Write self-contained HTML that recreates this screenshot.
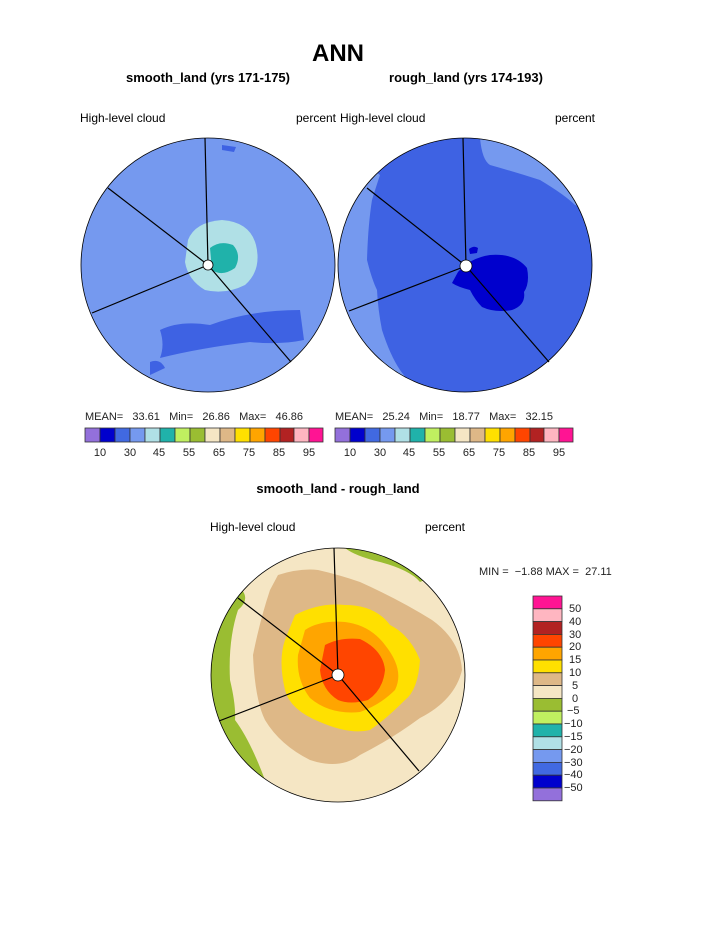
<!DOCTYPE html>
<html><head><style>body{margin:0;background:#fff}svg{display:block}text{font-family:"Liberation Sans",sans-serif}</style></head>
<body>
<svg width="723" height="935" viewBox="0 0 723 935" xmlns="http://www.w3.org/2000/svg">
<defs>
<clipPath id="c1"><circle cx="208" cy="265" r="127"/></clipPath>
<clipPath id="c2"><circle cx="465" cy="265" r="127"/></clipPath>
<clipPath id="c3"><circle cx="338" cy="675" r="127"/></clipPath>
</defs>
<text x="338" y="61" font-size="24" font-weight="bold" text-anchor="middle">ANN</text>
<text x="208" y="82" font-size="13" font-weight="bold" text-anchor="middle">smooth_land (yrs 171-175)</text>
<text x="466" y="82" font-size="13" font-weight="bold" text-anchor="middle">rough_land (yrs 174-193)</text>
<text x="80" y="122" font-size="12">High-level cloud</text>
<text x="336" y="122" font-size="12" text-anchor="end">percent</text>
<text x="340" y="122" font-size="12">High-level cloud</text>
<text x="595" y="122" font-size="12" text-anchor="end">percent</text>

<!-- left plot -->
<g clip-path="url(#c1)">
<rect x="70" y="130" width="280" height="270" fill="#7599EF"/>
<path d="M160 330 Q180 320 210 325 Q250 310 300 310 L304 340 Q280 345 250 342 Q200 348 160 358 Q165 345 160 330Z" fill="#3E62E3"/>
<path d="M150 362 Q160 358 165 368 L150 375Z" fill="#3E62E3"/>
<path d="M222 145 L236 147 L234 152 L222 150Z" fill="#3E62E3"/>
<path d="M188 240 Q195 222 222 220 Q250 222 256 245 Q262 270 245 285 Q225 295 205 290 Q188 280 185 262Z" fill="#B0E0E6"/>
<path d="M210 248 Q220 240 233 245 Q242 255 235 268 Q222 277 212 270Z" fill="#20B2AA"/>
</g>
<circle cx="208" cy="265" r="127" fill="none" stroke="#000" stroke-width="0.8"/>
<g stroke="#000" stroke-width="1.2"><line x1="208" y1="265" x2="205" y2="138"/><line x1="208" y1="265" x2="108" y2="188"/><line x1="208" y1="265" x2="92" y2="313"/><line x1="208" y1="265" x2="291" y2="362"/></g>
<circle cx="208" cy="265" r="5" fill="#fff" stroke="#000" stroke-width="0.8"/>

<!-- right plot -->
<g clip-path="url(#c2)">
<rect x="330" y="130" width="280" height="270" fill="#3E62E3"/>
<path d="M480 138 Q482 160 490 165 Q515 172 540 180 Q565 195 575 205 Q590 210 600 215 L600 130 Z" fill="#7599EF"/>
<path d="M330 140 L380 175 Q375 190 372 200 Q368 225 367 260 Q372 280 377 290 Q378 310 382 330 Q390 355 400 370 Q410 385 430 395 L330 400Z" fill="#7599EF"/>
<path d="M458 272 Q470 258 490 255 Q515 253 527 268 Q530 283 524 292 Q526 305 512 310 Q495 313 482 307 Q475 300 470 290 Q458 287 452 283Z" fill="#0000CD"/>
<path d="M469 249 Q474 245 478 248 L477 253 L470 254Z" fill="#0000CD"/>
</g>
<circle cx="465" cy="265" r="127" fill="none" stroke="#000" stroke-width="0.8"/>
<g stroke="#000" stroke-width="1.2"><line x1="466" y1="266" x2="463" y2="138"/><line x1="466" y1="266" x2="367" y2="188"/><line x1="466" y1="266" x2="349" y2="311"/><line x1="466" y1="266" x2="549" y2="362"/></g>
<circle cx="466" cy="266" r="6" fill="#fff" stroke="#000" stroke-width="0.8"/>

<!-- stats -->
<g font-size="11" fill="#222">
<text x="85" y="420">MEAN=&#160;&#160;&#160;33.61&#160;&#160;&#160;Min=&#160;&#160;&#160;26.86&#160;&#160;&#160;Max=&#160;&#160;&#160;46.86</text>
<text x="335" y="420">MEAN=&#160;&#160;&#160;25.24&#160;&#160;&#160;Min=&#160;&#160;&#160;18.77&#160;&#160;&#160;Max=&#160;&#160;&#160;32.15</text>
</g>
<g id="cb1" stroke="#333" stroke-width="0.8">
<rect x="85" y="428" width="15" height="14" fill="#9370DB"/><rect x="100" y="428" width="15" height="14" fill="#0000CD"/><rect x="115" y="428" width="15" height="14" fill="#4169E1"/><rect x="130" y="428" width="15" height="14" fill="#7599EF"/><rect x="145" y="428" width="15" height="14" fill="#B0E0E6"/><rect x="160" y="428" width="15" height="14" fill="#20B2AA"/><rect x="175" y="428" width="15" height="14" fill="#C0F060"/><rect x="190" y="428" width="15" height="14" fill="#9ABD32"/><rect x="205" y="428" width="15" height="14" fill="#F5E6C4"/><rect x="220" y="428" width="15" height="14" fill="#DEB887"/><rect x="235" y="428" width="15" height="14" fill="#FFE000"/><rect x="250" y="428" width="15" height="14" fill="#FFA500"/><rect x="265" y="428" width="15" height="14" fill="#FF4500"/><rect x="280" y="428" width="14" height="14" fill="#B22222"/><rect x="294" y="428" width="15" height="14" fill="#FFB6C1"/><rect x="309" y="428" width="14" height="14" fill="#FF1493"/>
</g>
<use href="#cb1" x="250"/>
<g font-size="11" fill="#222" text-anchor="middle">
<text x="100" y="456">10</text><text x="130" y="456">30</text><text x="159" y="456">45</text><text x="189" y="456">55</text><text x="219" y="456">65</text><text x="249" y="456">75</text><text x="279" y="456">85</text><text x="309" y="456">95</text>
<text x="350" y="456">10</text><text x="380" y="456">30</text><text x="409" y="456">45</text><text x="439" y="456">55</text><text x="469" y="456">65</text><text x="499" y="456">75</text><text x="529" y="456">85</text><text x="559" y="456">95</text>
</g>

<text x="338" y="493" font-size="13" font-weight="bold" text-anchor="middle">smooth_land - rough_land</text>
<text x="210" y="531" font-size="12">High-level cloud</text>
<text x="465" y="531" font-size="12" text-anchor="end">percent</text>

<!-- bottom plot -->
<g clip-path="url(#c3)">
<rect x="200" y="540" width="280" height="270" fill="#F5E6C4"/>
<path d="M345 548 Q355 556 380 562 Q410 570 420 582 L470 560 L360 540Z" fill="#9ABD32"/>
<path d="M242 590 Q250 600 238 610 Q228 640 230 680 Q236 705 235 720 Q250 740 265 780 L200 800 L200 590Z" fill="#9ABD32"/>
<path d="M278 575 Q300 568 318 570 Q340 575 360 582 Q400 600 432 620 Q460 640 462 670 Q455 700 420 718 Q390 740 360 755 Q340 770 310 760 Q280 745 265 720 Q255 700 253 655 Q260 620 270 590Z" fill="#DEB887"/>
<path d="M295 615 Q320 602 345 605 Q375 605 390 625 Q410 635 420 660 Q418 690 405 700 Q385 720 370 730 Q350 735 320 722 Q290 710 285 690 Q278 660 285 640Z" fill="#FFE000"/>
<path d="M305 630 Q320 620 345 622 Q370 625 385 645 Q405 670 395 690 Q380 705 360 712 Q330 715 310 698 Q296 680 298 655Z" fill="#FFA500"/>
<path d="M325 645 Q340 637 360 639 Q383 650 385 670 Q383 690 368 700 Q350 705 338 700 Q322 690 320 670Z" fill="#FF4500"/>
</g>
<circle cx="338" cy="675" r="127" fill="none" stroke="#000" stroke-width="0.8"/>
<g stroke="#000" stroke-width="1.2"><line x1="338" y1="675" x2="334" y2="548"/><line x1="338" y1="675" x2="238" y2="598"/><line x1="338" y1="675" x2="219" y2="721"/><line x1="338" y1="675" x2="419" y2="771"/></g>
<circle cx="338" cy="675" r="6" fill="#fff" stroke="#000" stroke-width="0.8"/>

<text x="479" y="575" font-size="11" fill="#222">MIN =&#160;&#160;−1.88 MAX =&#160;&#160;27.11</text>
<g stroke="#333" stroke-width="0.8">
<rect x="533" y="596" width="29" height="12.8" fill="#FF1493"/><rect x="533" y="608.8" width="29" height="12.8" fill="#FFB6C1"/><rect x="533" y="621.6" width="29" height="12.8" fill="#B22222"/><rect x="533" y="634.4" width="29" height="12.8" fill="#FF4500"/><rect x="533" y="647.2" width="29" height="12.8" fill="#FFA500"/><rect x="533" y="660" width="29" height="12.8" fill="#FFE000"/><rect x="533" y="672.8" width="29" height="12.8" fill="#DEB887"/><rect x="533" y="685.6" width="29" height="12.8" fill="#F5E6C4"/><rect x="533" y="698.4" width="29" height="12.8" fill="#9ABD32"/><rect x="533" y="711.2" width="29" height="12.8" fill="#C0F060"/><rect x="533" y="724" width="29" height="12.8" fill="#20B2AA"/><rect x="533" y="736.8" width="29" height="12.8" fill="#B0E0E6"/><rect x="533" y="749.6" width="29" height="12.8" fill="#7599EF"/><rect x="533" y="762.4" width="29" height="12.8" fill="#4169E1"/><rect x="533" y="775.2" width="29" height="12.8" fill="#0000CD"/><rect x="533" y="788" width="29" height="12.8" fill="#9370DB"/>
</g>
<g font-size="11" fill="#222">
<text x="569" y="612">50</text><text x="569" y="625">40</text><text x="569" y="638">30</text><text x="569" y="650">20</text><text x="569" y="663">15</text><text x="569" y="676">10</text><text x="572" y="689">5</text><text x="572" y="702">0</text><text x="567" y="714">−5</text><text x="564" y="727">−10</text><text x="564" y="740">−15</text><text x="564" y="753">−20</text><text x="564" y="766">−30</text><text x="564" y="778">−40</text><text x="564" y="791">−50</text>
</g>
</svg>
</body></html>
